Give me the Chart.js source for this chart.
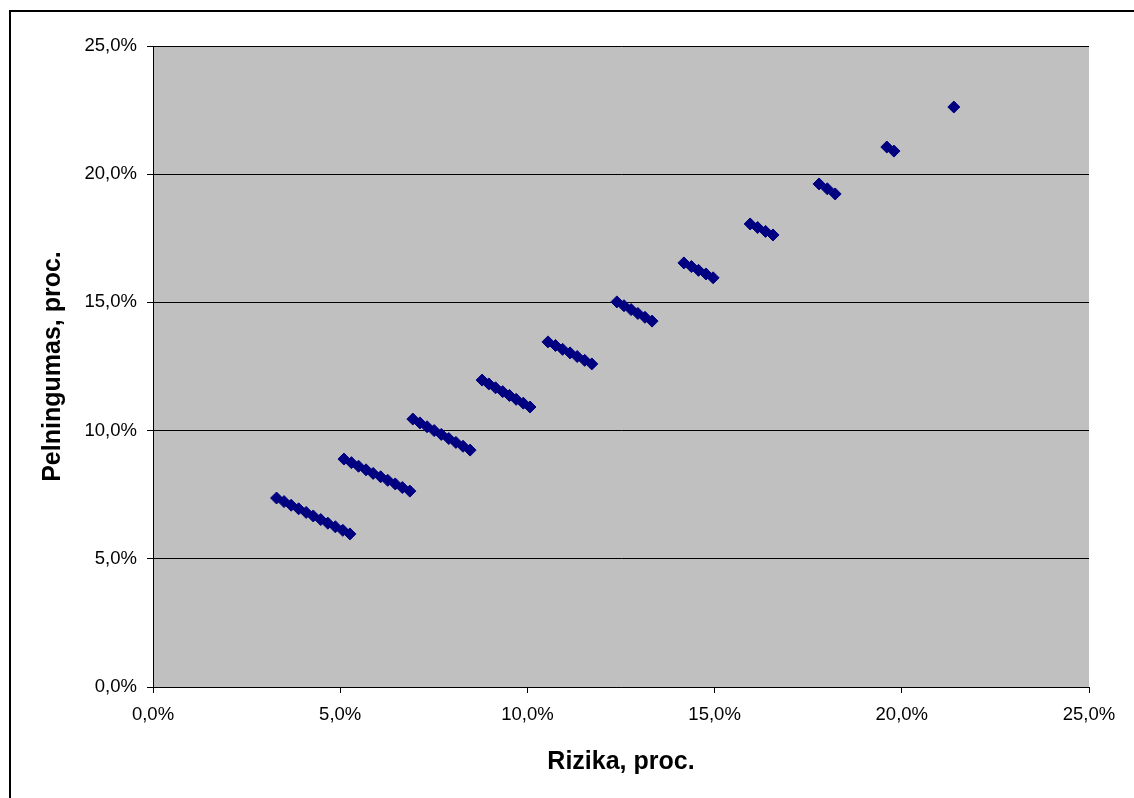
<!DOCTYPE html>
<html>
<head>
<meta charset="utf-8">
<title>Rizika ir pelningumas</title>
<script src="https://cdn.jsdelivr.net/npm/chart.js@4/dist/chart.umd.min.js"></script>
<style>
    html, body { margin: 0; padding: 0; background: #ffffff; overflow: hidden; }
    #frame {
        position: absolute;
        left: 9px;
        top: 10px;
        width: 1200px;
        height: 900px;
        border: 2px solid #000000;
    }
    #chart-box { position: absolute; left: 0; top: 0; width: 1134px; height: 798px; }
</style>
</head>
<body>
<div id="frame"></div>
<div id="chart-box"><canvas id="riskChart" width="1134" height="798"></canvas></div>
<script>
    // Portfolio risk (x) and return (y), in percent, grouped by series of combinations
    const riskValues = [
        3.30, 3.50, 3.69, 3.89, 4.09, 4.28, 4.48, 4.67, 4.87, 5.07, 5.26,
        5.10, 5.30, 5.49, 5.69, 5.88, 6.08, 6.27, 6.47, 6.66, 6.86,
        6.94, 7.13, 7.32, 7.51, 7.70, 7.90, 8.09, 8.28, 8.47,
        8.79, 8.97, 9.15, 9.34, 9.52, 9.70, 9.89, 10.07,
        10.55, 10.75, 10.94, 11.14, 11.33, 11.53, 11.72,
        12.39, 12.58, 12.77, 12.95, 13.14, 13.33,
        14.18, 14.38, 14.57, 14.77, 14.96,
        15.95, 16.15, 16.36, 16.56,
        17.79, 18.01, 18.22,
        19.60, 19.79,
        21.39
    ];
    const returnValues = [
        7.37, 7.23, 7.09, 6.95, 6.81, 6.67, 6.53, 6.39, 6.25, 6.11, 5.97,
        8.89, 8.75, 8.61, 8.47, 8.33, 8.20, 8.06, 7.92, 7.78, 7.64,
        10.45, 10.30, 10.15, 10.00, 9.85, 9.69, 9.54, 9.39, 9.24,
        11.97, 11.82, 11.67, 11.52, 11.37, 11.22, 11.07, 10.92,
        13.46, 13.32, 13.17, 13.03, 12.89, 12.74, 12.60,
        15.02, 14.87, 14.72, 14.57, 14.42, 14.27,
        16.54, 16.40, 16.25, 16.11, 15.96,
        18.06, 17.92, 17.77, 17.63,
        19.62, 19.43, 19.23,
        21.06, 20.90,
        22.62
    ];
    const tickLabels = ['0,0%', '5,0%', '10,0%', '15,0%', '20,0%', '25,0%'];
    const axisMax = 25;
    const tickStep = 5;

    const points = riskValues.map((x, i) => ({ x: x, y: returnValues[i] }));

    const FONT = '"Liberation Sans", Arial, sans-serif';

    // gray plot area behind the points
    const plotBackground = {
        id: 'plotBackground',
        beforeDraw(chart) {
            const { ctx, chartArea } = chart;
            ctx.save();
            ctx.fillStyle = '#c0c0c0';
            ctx.fillRect(chartArea.left, chartArea.top, chartArea.right - chartArea.left, chartArea.bottom - chartArea.top);
            ctx.restore();
        }
    };

    function tickText(value) {
        return tickLabels[Math.round(value / tickStep)];
    }

    new Chart(document.getElementById('riskChart').getContext('2d'), {
        type: 'scatter',
        data: {
            datasets: [{
                data: points,
                pointStyle: 'rectRot',
                pointRadius: 6,
                pointBackgroundColor: '#000080',
                pointBorderColor: '#000080',
                pointBorderWidth: 1
            }]
        },
        options: {
            responsive: false,
            animation: false,
            layout: { padding: { left: 0, top: 46, right: 45, bottom: 0 } },
            plugins: {
                legend: { display: false },
                tooltip: { enabled: false }
            },
            scales: {
                x: {
                    type: 'linear',
                    min: 0,
                    max: axisMax,
                    afterFit(scale) { scale.height = 111; },
                    border: { display: true, color: '#000000', width: 1 },
                    grid: { drawOnChartArea: false, drawTicks: true, tickLength: 6, color: '#000000' },
                    ticks: {
                        stepSize: tickStep,
                        padding: 11,
                        color: '#000000',
                        font: { family: FONT, size: 18.5 },
                        callback: tickText
                    },
                    title: {
                        display: true,
                        text: 'Rizika, proc.',
                        color: '#000000',
                        font: { family: FONT, size: 25, weight: 'bold' },
                        padding: { top: 0, bottom: 21 }
                    }
                },
                y: {
                    type: 'linear',
                    min: 0,
                    max: axisMax,
                    afterFit(scale) { scale.width = 153; },
                    border: { display: true, color: '#000000', width: 1 },
                    grid: { drawOnChartArea: true, drawTicks: true, tickLength: 6, color: '#000000' },
                    ticks: {
                        stepSize: tickStep,
                        padding: 10,
                        color: '#000000',
                        font: { family: FONT, size: 18.5 },
                        callback: tickText
                    },
                    title: {
                        display: true,
                        text: 'Pelningumas, proc.',
                        color: '#000000',
                        font: { family: FONT, size: 25, weight: 'bold' },
                        padding: { top: 38, bottom: 0 }
                    }
                }
            }
        },
        plugins: [plotBackground]
    });
</script>
</body>
</html>
